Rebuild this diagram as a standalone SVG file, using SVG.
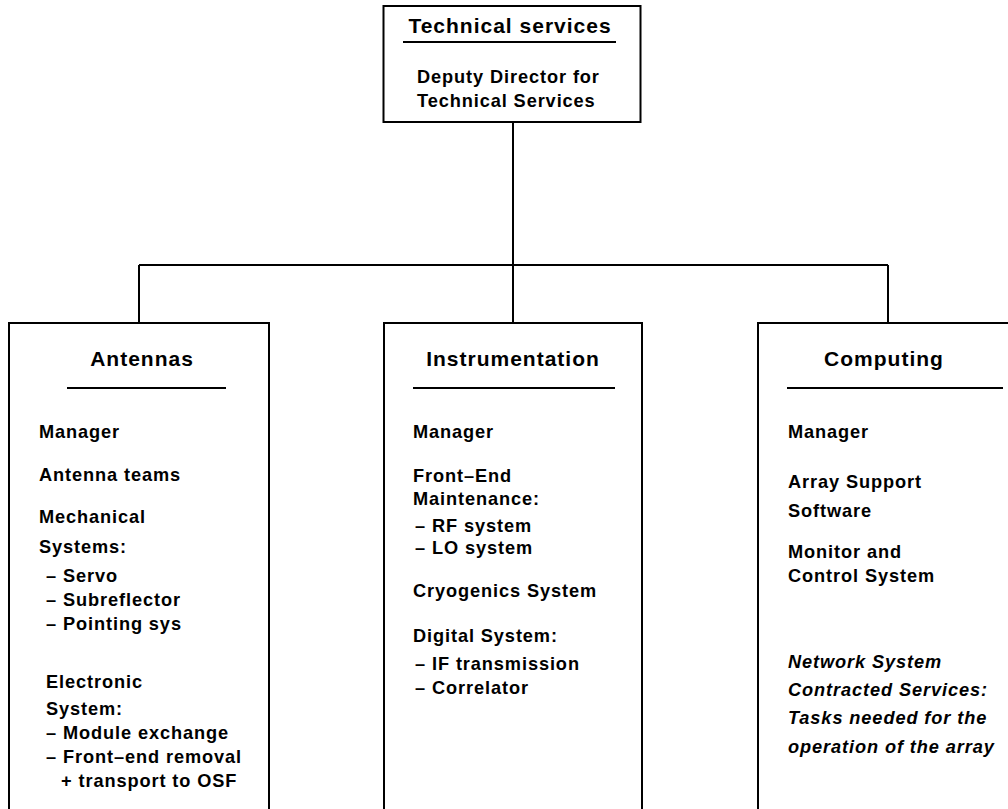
<svg xmlns="http://www.w3.org/2000/svg" width="1008" height="809" viewBox="0 0 1008 809">
<style>
.box{fill:#fff;stroke:#000;stroke-width:2}
.rule{stroke:#000;stroke-width:2}
.con{stroke:#000;stroke-width:2;fill:none}
text{font-family:"Liberation Sans",Arial,sans-serif;font-weight:bold;font-size:18.2px;fill:#000;letter-spacing:0.9px}
.h{font-size:21px;letter-spacing:1px}
.c{text-anchor:middle}
.i{font-style:italic}
</style>
<rect width="1008" height="809" fill="#fff"/>
<g id="connectors">
<path class="con" d="M513 122 V265 M139 265 H888 M139 265 V323 M513 265 V323 M888 265 V323"/>
</g>
<g id="technical-services">
<rect class="box" x="383.5" y="6" width="257" height="116"/>
<text class="h c" x="510" y="33">Technical services</text>
<line class="rule" x1="403" y1="42" x2="616" y2="42"/>
<text x="417" y="83">Deputy Director for</text>
<text x="417" y="107">Technical Services</text>
</g>
<g id="antennas">
<rect class="box" x="9" y="323" width="260" height="500"/>
<text class="h c" x="142" y="366">Antennas</text>
<line class="rule" x1="67" y1="388" x2="226" y2="388"/>
<text x="39" y="438">Manager</text>
<text x="39" y="481">Antenna teams</text>
<text x="39" y="523">Mechanical</text>
<text x="39" y="553">Systems:</text>
<text x="46" y="582">– Servo</text>
<text x="46" y="606">– Subreflector</text>
<text x="46" y="630">– Pointing sys</text>
<text x="46" y="688">Electronic</text>
<text x="46" y="715">System:</text>
<text x="46" y="739">– Module exchange</text>
<text x="46" y="763">– Front–end removal</text>
<text x="61" y="787">+ transport to OSF</text>
</g>
<g id="instrumentation">
<rect class="box" x="384" y="323" width="258" height="500"/>
<text class="h c" x="513" y="366">Instrumentation</text>
<line class="rule" x1="413" y1="388" x2="615" y2="388"/>
<text x="413" y="438">Manager</text>
<text x="413" y="482">Front–End</text>
<text x="413" y="505">Maintenance:</text>
<text x="415" y="532">– RF system</text>
<text x="415" y="554">– LO system</text>
<text x="413" y="597">Cryogenics System</text>
<text x="413" y="642">Digital System:</text>
<text x="415" y="670">– IF transmission</text>
<text x="415" y="694">– Correlator</text>
</g>
<g id="computing">
<rect class="box" x="758" y="323" width="270" height="500"/>
<text class="h c" x="884" y="366">Computing</text>
<line class="rule" x1="787" y1="388" x2="1003" y2="388"/>
<text x="788" y="438">Manager</text>
<text x="788" y="488">Array Support</text>
<text x="788" y="517">Software</text>
<text x="788" y="558">Monitor and</text>
<text x="788" y="582">Control System</text>
<text class="i" x="788" y="668">Network System</text>
<text class="i" x="788" y="696">Contracted Services:</text>
<text class="i" x="788" y="724">Tasks needed for the</text>
<text class="i" x="788" y="753">operation of the array</text>
</g>
</svg>
